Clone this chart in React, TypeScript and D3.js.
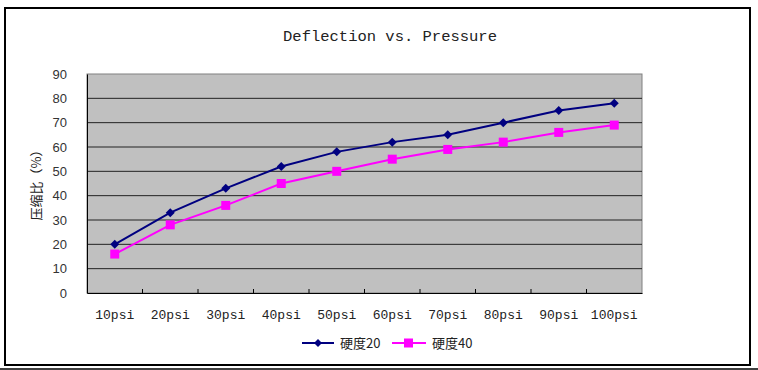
import { useRef, useEffect } from "react";
import { select, scaleBand, scaleLinear, line, axisBottom, axisLeft, range } from "d3";

const categories = ["10psi", "20psi", "30psi", "40psi", "50psi", "60psi", "70psi", "80psi", "90psi", "100psi"];
const hardness20 = [20, 33, 43, 52, 58, 62, 65, 70, 75, 78];
const hardness40 = [16, 28, 36, 45, 50, 55, 59, 62, 66, 69];
const yTicks = [0, 10, 20, 30, 40, 50, 60, 70, 80, 90];
const seriesNames = ["硬度20", "硬度40"];

function App() {
  const svgRef = useRef<SVGSVGElement | null>(null);
  const width = 758;
  const height = 370;

  useEffect(() => {
    if (!svgRef.current) return;
    const svg = select(svgRef.current);
    svg.selectAll("*").remove();

    const plot = { left: 87, right: 642, top: 74, bottom: 293 };

    // outer frame
    svg.append("rect").attr("width", width).attr("height", height).attr("fill", "#fff");
    svg.append("rect")
      .attr("x", 5).attr("y", 8).attr("width", 745).attr("height", 357)
      .attr("fill", "none").attr("stroke", "#000").attr("stroke-width", 2);
    svg.append("line")
      .attr("x1", 0).attr("x2", width).attr("y1", 369).attr("y2", 369)
      .attr("stroke", "#000").attr("stroke-width", 1.5);

    svg.append("text")
      .attr("x", 390).attr("y", 41)
      .attr("text-anchor", "middle")
      .attr("font-family", "'Liberation Mono', monospace")
      .attr("font-size", 15.5)
      .attr("fill", "#222")
      .text("Deflection vs. Pressure");

    const x = scaleBand<string>().domain(categories).range([plot.left, plot.right]);
    const y = scaleLinear().domain([0, 90]).range([plot.bottom, plot.top]);

    // plot background
    svg.append("rect")
      .attr("x", plot.left).attr("y", plot.top)
      .attr("width", plot.right - plot.left).attr("height", plot.bottom - plot.top)
      .attr("fill", "#c0c0c0").attr("stroke", "#808080");

    // gridlines
    svg.append("g")
      .selectAll("line")
      .data(yTicks.slice(1, -1))
      .join("line")
      .attr("x1", plot.left).attr("x2", plot.right)
      .attr("y1", (d) => y(d)).attr("y2", (d) => y(d))
      .attr("stroke", "#222").attr("stroke-width", 1);

    // y axis
    svg.append("g")
      .attr("transform", `translate(${plot.left},0)`)
      .call(axisLeft(y).tickValues(yTicks).tickSize(0).tickPadding(20))
      .call((g) => g.select(".domain").attr("stroke", "#000"))
      .call((g) => g.selectAll(".tick text")
        .attr("font-family", "'Liberation Sans', Arial, sans-serif")
        .attr("font-size", 13).attr("fill", "#333"));

    // x axis
    svg.append("g")
      .attr("transform", `translate(0,${plot.bottom})`)
      .call(axisBottom(x).tickSize(0).tickPadding(17))
      .call((g) => g.select(".domain").attr("stroke", "#000"))
      .call((g) => g.selectAll(".tick text")
        .attr("font-family", "'Liberation Mono', monospace")
        .attr("font-size", 13).attr("fill", "#222"));

    // category separator ticks
    svg.append("g")
      .selectAll("line")
      .data(range(1, categories.length))
      .join("line")
      .attr("x1", (i) => x(categories[i])!).attr("x2", (i) => x(categories[i])!)
      .attr("y1", plot.bottom).attr("y2", plot.bottom - 4)
      .attr("stroke", "#000");

    svg.append("text")
      .attr("transform", `translate(41,182) rotate(-90)`)
      .attr("text-anchor", "middle")
      .attr("font-family", "'Noto Sans CJK SC', sans-serif")
      .attr("font-size", 13)
      .attr("fill", "#222")
      .text("压缩比（%）");

    const cx = (i: number) => x(categories[i])! + x.bandwidth() / 2;
    const lineGen = line<number>().x((_, i) => cx(i)).y((d) => y(d));

    const blue = "#000080";
    const pink = "#ff00ff";

    svg.append("path").attr("d", lineGen(hardness20)).attr("fill", "none")
      .attr("stroke", blue).attr("stroke-width", 2);
    svg.append("g").selectAll("path").data(hardness20).join("path")
      .attr("d", (d, i) => `M${cx(i)},${y(d) - 4.5}l4.5,4.5l-4.5,4.5l-4.5,-4.5z`)
      .attr("fill", blue);

    svg.append("path").attr("d", lineGen(hardness40)).attr("fill", "none")
      .attr("stroke", pink).attr("stroke-width", 2);
    svg.append("g").selectAll("rect").data(hardness40).join("rect")
      .attr("x", (_, i) => cx(i) - 4.5).attr("y", (d) => y(d) - 4.5)
      .attr("width", 9).attr("height", 9).attr("fill", pink);

    // legend
    const legend = svg.append("g").attr("transform", "translate(0,343)");
    legend.append("line").attr("x1", 302).attr("x2", 334).attr("stroke", blue).attr("stroke-width", 2);
    legend.append("path").attr("d", "M318,-4l4,4l-4,4l-4,-4z").attr("fill", blue);
    legend.append("text").attr("x", 340).attr("y", 5)
      .attr("font-family", "'Noto Sans CJK SC', sans-serif").attr("font-size", 13).attr("fill", "#222")
      .text(seriesNames[0]);
    legend.append("line").attr("x1", 392).attr("x2", 426).attr("stroke", pink).attr("stroke-width", 2);
    legend.append("rect").attr("x", 404).attr("y", -4.5).attr("width", 9).attr("height", 9).attr("fill", pink);
    legend.append("text").attr("x", 432).attr("y", 5)
      .attr("font-family", "'Noto Sans CJK SC', sans-serif").attr("font-size", 13).attr("fill", "#222")
      .text(seriesNames[1]);
  }, []);

  return (
    <svg
      ref={svgRef}
      width={width}
      height={height}
      viewBox={`0 0 ${width} ${height}`}
      style={{ position: "absolute", left: 0, top: 0 }}
    ></svg>
  );
}

export default App;
